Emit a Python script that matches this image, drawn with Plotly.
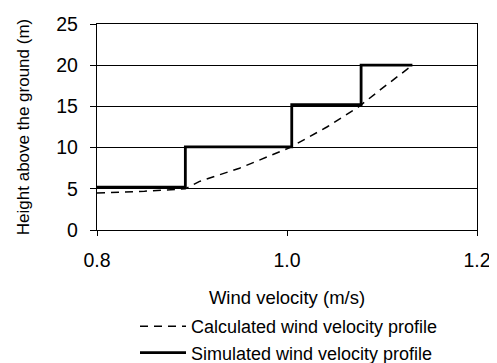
import plotly.graph_objects as go

# Calculated profile (dashed)
calc_v = [0.800, 0.850, 0.893, 0.908, 0.950, 0.985, 1.003, 1.042, 1.076, 1.098, 1.132]
calc_h = [4.5, 4.7, 5.0, 5.9, 7.5, 9.2, 10.0, 12.5, 15.0, 17.0, 20.0]

# Simulated profile (step)
sim_v = [0.800, 0.893, 0.893, 1.005, 1.005, 1.078, 1.078, 1.132]
sim_h = [5.2, 5.2, 10.1, 10.1, 15.2, 15.2, 20.0, 20.0]

x_ticks = [0.8, 1.0, 1.2]
x_tick_labels = ["0.8", "1.0", "1.2"]
y_ticks = [0, 5, 10, 15, 20, 25]

FONT = "Liberation Sans, Arial, sans-serif"

fig = go.Figure()
fig.add_trace(go.Scatter(x=calc_v, y=calc_h, mode="lines",
                         name="Calculated wind velocity profile",
                         line=dict(color="black", width=1.5, dash="8px,6px")))
fig.add_trace(go.Scatter(x=sim_v, y=sim_h, mode="lines",
                         name="Simulated wind velocity profile",
                         line=dict(color="black", width=2.8)))

fig.update_layout(
    width=489, height=375,
    margin=dict(l=89, r=20, t=16, b=153, autoexpand=False),
    paper_bgcolor="white", plot_bgcolor="white",
    font=dict(family=FONT, color="black"),
    showlegend=True,
    legend=dict(x=0.10, y=-0.379, xanchor="left", yanchor="top",
                font=dict(size=18, family=FONT), bgcolor="rgba(0,0,0,0)",
                itemwidth=46),
)
fig.update_xaxes(range=[0.8, 1.2], tickvals=x_ticks, ticktext=x_tick_labels,
                 showgrid=False, zeroline=False, showline=True, linecolor="black",
                 linewidth=1.3, mirror=True, ticks="outside", ticklen=5,
                 tickcolor="black", tickfont=dict(size=19.5), ticklabelstandoff=7,
                 automargin=False,
                 title=dict(text="Wind velocity (m/s)", font=dict(size=18.5), standoff=21))
fig.update_yaxes(range=[0, 25], tickvals=y_ticks, showgrid=True, gridcolor="black",
                 gridwidth=1, zeroline=False, showline=True, linecolor="black",
                 linewidth=1.3, mirror=True, ticks="outside", ticklen=6,
                 tickcolor="black", tickfont=dict(size=19.5), ticklabelstandoff=8,
                 automargin=False,
                 title=dict(text="Height above the ground (m)", font=dict(size=17), standoff=22))

fig.write_html("out.html")
